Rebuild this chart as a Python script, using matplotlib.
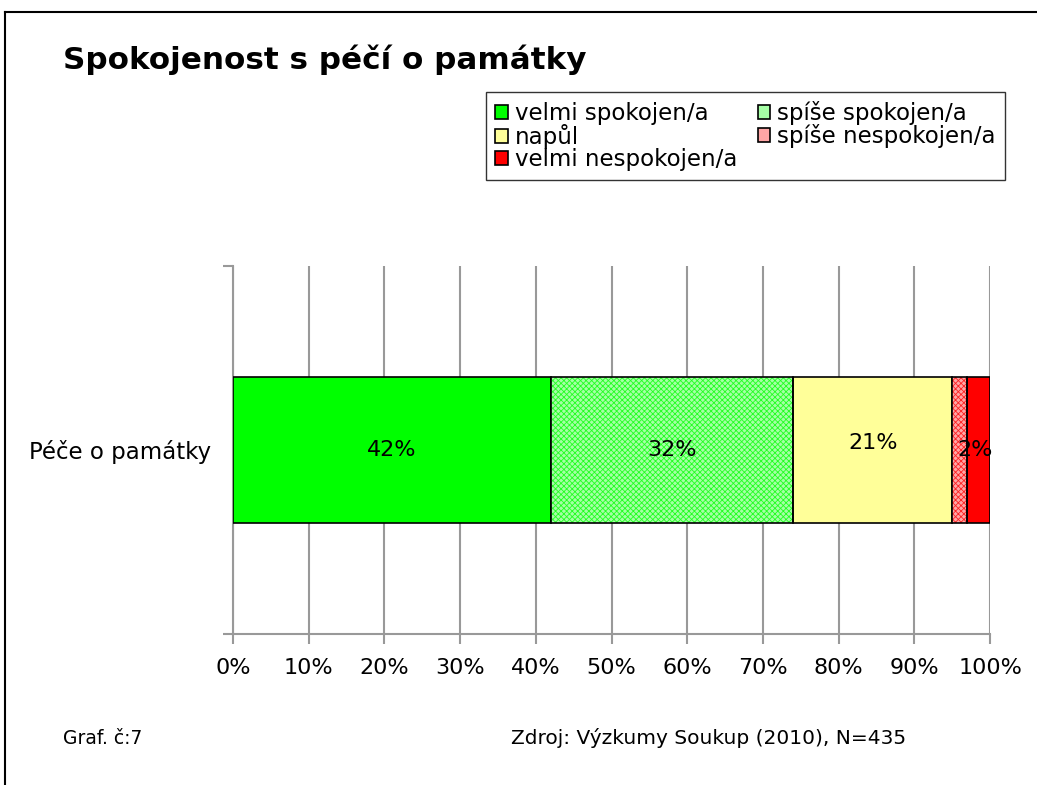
"""Spokojenost s péčí o památky - stacked 100% bar"""
import matplotlib
matplotlib.use("Agg")
import matplotlib.pyplot as plt
from matplotlib.lines import Line2D
from matplotlib.patches import Patch

category = "Péče o památky"
labels = ["velmi spokojen/a", "spíše spokojen/a", "napůl", "spíše nespokojen/a", "velmi nespokojen/a"]
values = [42, 32, 21, 2, 3]
value_labels = ["42%", "32%", "21%", "2%", ""]
colors = ["#00ff00", "#a6ffa6", "#ffff99", "#ffa6a6", "#ff0000"]
hatch_colors = [None, "#22ff22", None, "#ff2222", None]
xticks = [0, 10, 20, 30, 40, 50, 60, 70, 80, 90, 100]

plt.rcParams.update({"font.family": "DejaVu Sans", "hatch.linewidth": 0.6})
fig = plt.figure(figsize=(10.37, 7.85), dpi=100)
ax = fig.add_axes([233 / 1037, 151 / 785, 757 / 1037, 368 / 785])

grey = "#999999"
H = 0.397
handles = []
left = 0
for lab, v, c, hc, vl in zip(labels, values, colors, hatch_colors, value_labels):
    if hc is None:
        ax.barh(0, v, left=left, height=H, color=c, edgecolor="black", lw=1.2, zorder=3)
        handles.append(Patch(facecolor=c, edgecolor="black", lw=1.2))
    else:
        ax.barh(0, v, left=left, height=H, color=c, edgecolor="none", zorder=3)
        ax.barh(0, v, left=left, height=H, color="none", edgecolor=hc, hatch="xxxxxx", lw=0, zorder=3)
        ax.barh(0, v, left=left, height=H, color="none", edgecolor="black", lw=1.2, zorder=4)
        handles.append(Patch(facecolor=c, edgecolor="black", lw=1.2))
    if vl:
        xpos = left + v / 2 + (2 if vl == "2%" else 0)
        ypos = 0.02 if vl == "21%" else 0
        ax.text(xpos, ypos, vl, ha="center", va="center", fontsize=16, zorder=5)
    left += v

ax.set_xlim(0, 100)
ax.set_ylim(-0.5, 0.5)
ax.set_xticks(xticks)
ax.set_xticklabels([f"{t}%" for t in xticks], fontsize=16)
ax.grid(axis="x", color=grey, lw=1.5, zorder=0)
ax.set_yticks([-0.5, 0.5])
ax.set_yticklabels([])
ax.set_yticks([0], minor=True)
ax.set_yticklabels([category], minor=True, fontsize=16.5)
ax.tick_params(axis="y", which="minor", length=0, pad=16)
ax.tick_params(axis="both", which="major", color=grey, width=1.5, length=7, direction="out", pad=10)
for s in ["top", "right"]:
    ax.spines[s].set_visible(False)
for s in ["left", "bottom"]:
    ax.spines[s].set_color(grey)
    ax.spines[s].set_linewidth(1.5)

order = [0, 2, 4, 1, 3]
leg = fig.legend([handles[i] for i in order], [labels[i] for i in order], ncol=2,
                 loc="upper left", bbox_to_anchor=(486 / 1037, 1 - 92 / 785), borderaxespad=0,
                 fontsize=16.5, frameon=True, fancybox=False, edgecolor="black",
                 handlelength=0.55, handleheight=0.55, handletextpad=0.3,
                 columnspacing=0.9, labelspacing=-0.05, borderpad=0.4)
leg.get_frame().set_linewidth(1.0)

fig.text(63 / 1037, 1 - 60 / 785, "Spokojenost s péčí o památky", fontsize=22.3,
         fontweight="bold", va="center", ha="left")
fig.text(63 / 1037, 1 - 738 / 785, "Graf. č:7", fontsize=13.5, va="center", ha="left")
fig.text(511 / 1037, 1 - 738 / 785, "Zdroj: Výzkumy Soukup (2010), N=435", fontsize=14.5,
         va="center", ha="left")

# outer frame (left and top edges)
fig.add_artist(Line2D([5 / 1037, 5 / 1037], [0, 1 - 12 / 785], color="black", lw=1.5))
fig.add_artist(Line2D([5 / 1037, 1], [1 - 12 / 785, 1 - 12 / 785], color="black", lw=1.5))

fig.savefig("out.png", dpi=100)
